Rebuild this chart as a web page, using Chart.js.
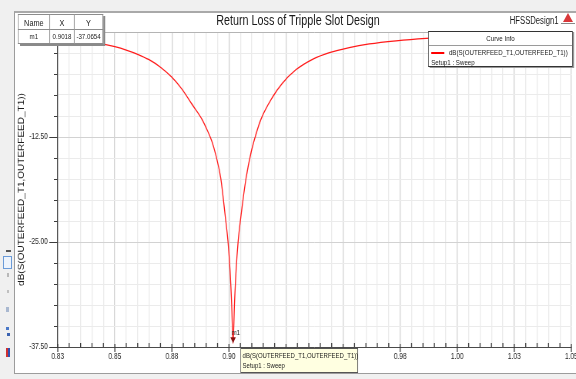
<!DOCTYPE html>
<html>
<head>
<meta charset="utf-8">
<script src="https://cdn.jsdelivr.net/npm/chart.js@4.4.1/dist/chart.umd.min.js"></script>
<style>
  html, body { margin: 0; padding: 0; width: 576px; height: 379px; overflow: hidden; background: #f0f0f0; font-family: "Liberation Sans", Arial, sans-serif; }
  #panel { position: absolute; left: 14px; top: 11px; width: 562px; height: 363px; background: #fff; border-top: 2px solid #a9a9a9; border-left: 1px solid #9c9c9c; border-bottom: 1px solid #9c9c9c; box-sizing: border-box; }
  /* the whole plot is laid out wide and compressed horizontally */
  #squeeze { position: absolute; left: 0; top: 0; width: 748px; height: 379px; transform: scaleX(0.77); transform-origin: 0 0; }
  #plot { position: absolute; left: 0; top: 0; }
  .t { position: absolute; white-space: nowrap; color: #1a1a1a; }
  #title { left: 187px; width: 400px; top: 13px; font-size: 14px; line-height: 14px; text-align: center; }
  #design { left: 662px; top: 16px; font-size: 10px; line-height: 10px; }
  #mtable { position: absolute; left: 23px; top: 14px; border-collapse: collapse; background: #fff; border: 1px solid #444; box-shadow: 3px 2px 0 #8a8a8a; font-size: 8px; }
  #mtable td { border: 1px solid #8c8c8c; text-align: center; padding: 0; color: #1a1a1a; }
  #mtable tr.h td { height: 14px; font-size: 9.5px; }
  #mtable tr.r td { height: 13px; }
  #curveinfo { position: absolute; left: 556px; top: 31px; width: 188px; height: 36px; box-sizing: border-box; border: 1px solid #333; background: #fff; box-shadow: 2px 1px 0 #999; font-size: 8px; }
  #curveinfo .hd { height: 13px; line-height: 13px; text-align: center; border-bottom: 1px solid #9a9a9a; color: #222; }
  #curveinfo .row { position: absolute; left: 3px; white-space: nowrap; color: #1a1a1a; line-height: 9px; }
  #curveinfo .swatch { display: inline-block; width: 17px; height: 1.5px; background: #ff0000; vertical-align: middle; margin-right: 6px; }
  #tip { position: absolute; left: 312px; top: 348px; width: 153px; height: 25px; box-sizing: border-box; border: 1px solid #555; background: #ffffe1; font-size: 7.8px; line-height: 10px; padding: 2px 0 0 2px; color: #1a1a1a; white-space: nowrap; }
  .ico { position: absolute; }
</style>
</head>
<body>
<div id="panel"></div>

<!-- left toolbar strip -->
<div class="ico" style="left:6px;top:250px;width:5px;height:2px;background:#555;"></div>
<div class="ico" style="left:3px;top:256px;width:7px;height:11px;border:1px solid #6b9bd8;background:#eef4fc;"></div>
<div class="ico" style="left:7px;top:273px;width:2px;height:4px;background:#b8b8b8;"></div>
<div class="ico" style="left:7px;top:290px;width:2px;height:3px;background:#c0c0c0;"></div>
<div class="ico" style="left:6px;top:307px;width:3px;height:5px;background:#a9b8d0;"></div>
<div class="ico" style="left:6px;top:327px;width:3px;height:3px;background:#4a78c8;"></div>
<div class="ico" style="left:7px;top:333px;width:3px;height:3px;background:#3a62b0;"></div>
<div class="ico" style="left:6px;top:348px;width:2px;height:9px;background:#d03030;"></div>
<div class="ico" style="left:8px;top:348px;width:2px;height:9px;background:#3050b0;"></div>

<!-- logo mark -->
<div class="ico" style="left:563px;top:13px;width:0;height:0;border-left:5px solid transparent;border-right:5px solid transparent;border-bottom:9px solid #d9383a;"></div>
<div class="ico" style="left:561px;top:23px;width:14px;height:1px;background:#888;"></div>

<div id="squeeze">
  <canvas id="plot" width="748" height="379"></canvas>
  <div class="t" id="title">Return Loss of Tripple Slot Design</div>
  <div class="t" id="design">HFSSDesign1</div>

  <table id="mtable">
    <tr class="h"><td style="width:40px">Name</td><td style="width:31px">X</td><td style="width:36px">Y</td></tr>
    <tr class="r"><td>m1</td><td>0.9018</td><td>-37.0654</td></tr>
  </table>

  <div id="curveinfo">
    <div class="hd">Curve Info</div>
    <div class="row" style="top:16px;"><span class="swatch"></span>dB(S(OUTERFEED_T1,OUTERFEED_T1))</div>
    <div class="row" style="top:26px;">Setup1 : Sweep</div>
  </div>

  <div id="tip">dB(S(OUTERFEED_T1,OUTERFEED_T1))<br>Setup1 : Sweep</div>
</div>

<script>
// Sweep frequency (GHz) and return loss dB(S11)
const freqGHz = [0.825, 0.830, 0.835, 0.840, 0.845, 0.850, 0.855, 0.860, 0.865, 0.870,
                 0.875, 0.8794, 0.8838, 0.8882, 0.8905, 0.8925, 0.8942, 0.8964, 0.8984, 0.8996,
                 0.9005, 0.9012, 0.9018, 0.9024, 0.9031, 0.9040, 0.9053, 0.9075, 0.9098, 0.9118,
                 0.9140, 0.9190, 0.9234, 0.9293, 0.9366, 0.9440, 0.9527, 0.9615, 0.9732, 0.9864,
                 1.000, 1.025, 1.050];
const dBS11 = [-0.80, -0.93, -1.07, -1.24, -1.45, -1.75, -2.15, -2.65, -3.30, -4.20,
               -5.40, -6.80, -8.60, -10.40, -11.70, -13.00, -14.60, -17.40, -22.00, -25.00,
               -28.50, -32.50, -37.0654, -32.50, -28.50, -25.00, -21.80, -17.40, -14.20, -12.20,
               -10.40, -7.80, -6.10, -4.50, -3.25, -2.45, -1.85, -1.42, -1.05, -0.76,
               -0.57, -0.40, -0.30];

// Axis labels shown on the major ticks
const xTickLabels = ['0.83', '0.85', '0.88', '0.90', '0.93', '0.95', '0.98', '1.00', '1.03', '1.05'];
const yTickLabels = ['-37.50', '-25.00', '-12.50', '0.00'];

// Marker m1
const markerName = 'm1';
const markerX = 0.9018;
const markerY = -37.0654;

const X_MIN = 0.825, X_MAX = 1.05, X_MINOR = 0.005;
const Y_MIN = -37.5, Y_MAX = 0, Y_MINOR = 2.5;
const MAJOR_EVERY = 5;

const gridMajor = '#d2d2d2';
const gridMinor = '#ebebeb';

function stepTicks(min, max, step) {
  const n = Math.round((max - min) / step);
  const out = [];
  for (let i = 0; i <= n; i++) out.push({ value: min + i * step });
  return out;
}

// keep the plot edges fixed regardless of label overhang
function noOverhang(s) {
  s.paddingLeft = 0; s.paddingRight = 0; s.paddingTop = 0; s.paddingBottom = 0;
}

// Short/long tick marks along both axes
const tickMarks = {
  id: 'tickMarks',
  afterDraw(chart) {
    const { ctx, chartArea: a, scales: { x, y } } = chart;
    ctx.save();
    ctx.strokeStyle = '#3c3c3c';
    ctx.lineWidth = 1;
    ctx.beginPath();
    y.ticks.forEach((t, i) => {
      const py = Math.round(y.getPixelForValue(t.value)) + 0.5;
      const len = i % MAJOR_EVERY === 0 ? 11 : 5;
      ctx.moveTo(a.left - len, py);
      ctx.lineTo(a.left, py);
    });
    ctx.stroke();
    ctx.lineWidth = 1.3;
    ctx.beginPath();
    x.ticks.forEach((t, i) => {
      const px = x.getPixelForValue(t.value);
      if (i % MAJOR_EVERY === 0) {
        ctx.moveTo(px, a.bottom - 3);
        ctx.lineTo(px, a.bottom + 5);
      } else {
        ctx.moveTo(px, a.bottom - 4);
        ctx.lineTo(px, a.bottom);
      }
    });
    ctx.stroke();
    ctx.restore();
  }
};

// Marker triangle with its name
const markerPlugin = {
  id: 'markerPlugin',
  afterDatasetsDraw(chart) {
    const { ctx, scales: { x, y } } = chart;
    const px = x.getPixelForValue(markerX);
    const py = y.getPixelForValue(markerY);
    ctx.save();
    ctx.fillStyle = '#8a1010';
    ctx.beginPath();
    ctx.moveTo(px - 3.5, py - 6);
    ctx.lineTo(px + 3.5, py - 6);
    ctx.lineTo(px, py);
    ctx.closePath();
    ctx.fill();
    ctx.fillStyle = '#222';
    ctx.font = '8px "Liberation Sans", Arial, sans-serif';
    ctx.textBaseline = 'alphabetic';
    ctx.textAlign = 'left';
    ctx.fillText(markerName, px - 2, py - 8);
    ctx.restore();
  }
};

Chart.defaults.font.family = '"Liberation Sans", Arial, sans-serif';
Chart.defaults.color = '#1e1e1e';

new Chart(document.getElementById('plot'), {
  type: 'line',
  data: {
    datasets: [{
      label: 'dB(S(OUTERFEED_T1,OUTERFEED_T1))',
      data: freqGHz.map((f, i) => ({ x: f, y: dBS11[i] })),
      borderColor: '#ff1a1a',
      borderWidth: 1.3,
      pointRadius: 0,
      fill: false,
      cubicInterpolationMode: 'monotone'
    }]
  },
  options: {
    responsive: false,
    animation: false,
    devicePixelRatio: 1,
    layout: { padding: { top: 32, right: 6, bottom: 0, left: 0 } },
    plugins: {
      legend: { display: false },
      tooltip: { enabled: false },
      title: { display: false }
    },
    scales: {
      x: {
        type: 'linear',
        min: X_MIN,
        max: X_MAX,
        afterBuildTicks: s => { s.ticks = stepTicks(X_MIN, X_MAX, X_MINOR); },
        afterFit: s => { s.height = 32; noOverhang(s); },
        ticks: {
          autoSkip: false,
          maxRotation: 0,
          padding: 5,
          font: { size: 8.5 },
          callback: (v, i) => (i % MAJOR_EVERY === 0 ? xTickLabels[i / MAJOR_EVERY] : '')
        },
        grid: {
          drawTicks: false,
          lineWidth: 1.3,
          color: c => (c.index % MAJOR_EVERY === 0 ? gridMajor : gridMinor)
        },
        border: { display: true, color: '#4a4a4a', width: 1 }
      },
      y: {
        type: 'linear',
        min: Y_MIN,
        max: Y_MAX,
        afterBuildTicks: s => { s.ticks = stepTicks(Y_MIN, Y_MAX, Y_MINOR); },
        afterFit: s => { s.width = 75; noOverhang(s); },
        ticks: {
          autoSkip: false,
          padding: 13,
          font: { size: 8.5 },
          callback: (v, i) => (i % MAJOR_EVERY === 0 ? yTickLabels[i / MAJOR_EVERY] : '')
        },
        grid: {
          drawTicks: false,
          color: c => (c.index === 15 ? '#b4b4b4' : (c.index % MAJOR_EVERY === 0 ? gridMajor : gridMinor))
        },
        border: { display: true, color: '#4a4a4a', width: 1.3 },
        title: {
          display: true,
          text: 'dB(S(OUTERFEED_T1,OUTERFEED_T1))',
          font: { size: 10 },
          color: '#1e1e1e',
          padding: { top: 22, bottom: 0 }
        }
      }
    }
  },
  plugins: [tickMarks, markerPlugin]
});
</script>
</body>
</html>
